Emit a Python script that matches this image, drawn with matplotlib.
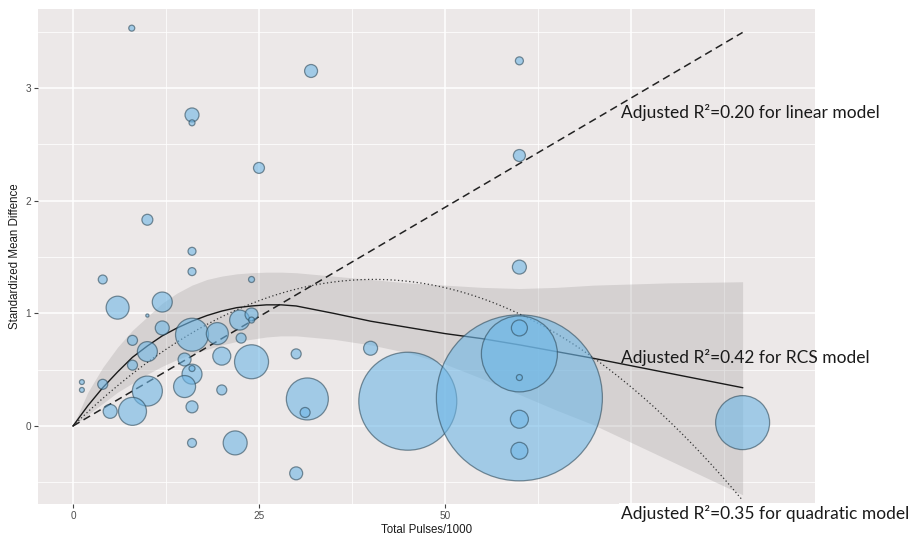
import numpy as np
import matplotlib
matplotlib.use("Agg")
import matplotlib.pyplot as plt
from matplotlib.ticker import MultipleLocator

# Study-level effects: total pulses (thousands), standardized mean difference, study weight
x_pulses = [7.9, 16.0, 16.0, 25.0, 32.0, 60.0, 60.0, 10.0, 16.0, 16.0,
            24.0, 4.0, 6.0, 10.0, 12.0, 12.0, 8.0, 10.0, 8.0, 16.0,
            19.4, 22.4, 24.0, 24.0, 22.6, 24.0, 20.0, 15.0, 16.0, 16.0,
            15.0, 10.0, 8.0, 5.0, 4.0, 1.2, 1.2, 16.0, 20.0, 16.0,
            21.8, 30.0, 30.0, 31.5, 31.2, 40.0, 45.0, 60.0, 60.0, 60.0,
            60.0, 60.0, 60.0, 60.0, 90.0]
smd = [3.53, 2.76, 2.69, 2.29, 3.15, 3.24, 2.40, 1.83, 1.55, 1.37,
       1.30, 1.30, 1.05, 0.98, 1.10, 0.87, 0.76, 0.66, 0.54, 0.81,
       0.82, 0.94, 0.99, 0.94, 0.78, 0.57, 0.62, 0.59, 0.46, 0.51,
       0.35, 0.31, 0.13, 0.13, 0.37, 0.39, 0.32, 0.17, 0.32, -0.15,
       -0.15, -0.42, 0.64, 0.24, 0.12, 0.69, 0.22, 0.25, 0.64, 0.87,
       0.43, 0.06, -0.22, 1.41, 0.03]
weight = [9, 49, 9, 30, 42, 16, 36, 30, 16, 16,
          9, 20, 132, 2.5, 100, 49, 25, 100, 25, 272,
          121, 100, 42, 9, 25, 289, 81, 42, 100, 9,
          121, 225, 196, 49, 25, 6, 6, 36, 25, 20,
          144, 42, 25, 441, 25, 49, 2401, 6889, 1444, 64,
          9, 81, 72, 49, 729]

# Restricted cubic spline fit with its confidence band
rcs_x = [0, 2, 4, 6, 8, 10, 12, 14, 16, 18, 20, 22, 24, 26, 28, 30,
         35, 40, 45, 50, 55, 60, 65, 70, 80, 90]
rcs_fit = [0, 0.18, 0.34, 0.48, 0.61, 0.71, 0.80, 0.87, 0.93, 0.98, 1.02,
           1.05, 1.065, 1.075, 1.075, 1.065, 1.00, 0.93, 0.875, 0.82,
           0.775, 0.72, 0.66, 0.60, 0.47, 0.34]
rcs_upper = [0, 0.30, 0.52, 0.70, 0.85, 0.97, 1.09, 1.18, 1.25, 1.30, 1.33,
             1.35, 1.36, 1.365, 1.365, 1.36, 1.33, 1.30, 1.27, 1.25, 1.23,
             1.22, 1.23, 1.25, 1.27, 1.28]
rcs_lower = [0, 0.10, 0.20, 0.30, 0.38, 0.46, 0.53, 0.59, 0.64, 0.68, 0.72,
             0.75, 0.77, 0.79, 0.80, 0.80, 0.77, 0.72, 0.65, 0.55, 0.42,
             0.28, 0.14, 0.01, -0.30, -0.61]

# Linear (through origin) and quadratic model coefficients
lin_slope = 0.0388
quad_a, quad_b = 0.0644, -0.000797
x_max = 90

x_ticks = [0, 25, 50, 75]
x_ticklabels = ["0", "25", "50", ""]

labels = ["Adjusted R\u00b2=0.20 for linear model",
          "Adjusted R\u00b2=0.42 for RCS model",
          "Adjusted R\u00b2=0.35 for quadratic model"]

plt.rcParams["font.family"] = ["Liberation Sans", "DejaVu Sans"]

fig = plt.figure(figsize=(9.17, 5.38), dpi=100, facecolor="white")
ax = fig.add_axes([38 / 917, 34 / 538, 777 / 917, 495 / 538])
ax.set_facecolor("#ECE8E8")
for s in ax.spines.values():
    s.set_visible(False)

ax.set_xlim(-4.7, 99.73)
ax.set_ylim(-0.692, 3.70)
ax.set_xticks(x_ticks)
ax.set_xticklabels(x_ticklabels)
ax.xaxis.set_minor_locator(MultipleLocator(12.5))
ax.yaxis.set_major_locator(MultipleLocator(1))
ax.yaxis.set_minor_locator(MultipleLocator(0.5))
ax.set_axisbelow(True)
ax.grid(which="major", color="white", linewidth=1.1)
ax.grid(which="minor", color="white", linewidth=0.55)
ax.tick_params(which="major", length=3, width=0.8, color="#444444",
               labelsize=7.2, labelcolor="#4D4D4D", pad=2)
ax.tick_params(which="minor", length=0)

# Confidence ribbon and model curves
ax.fill_between(rcs_x, rcs_lower, rcs_upper, color="#9A9696", alpha=0.28,
                linewidth=0, zorder=1)
xs = np.linspace(0, x_max, 300)
ax.plot(xs, lin_slope * xs, color="#222222", linewidth=1.1,
        dashes=(5, 3), zorder=2)
ax.plot(xs, quad_a * xs + quad_b * xs ** 2, color="#333333", linewidth=0.9,
        dashes=(1, 2), zorder=2)
ax.plot(rcs_x, rcs_fit, color="#1A1A1A", linewidth=1.0, zorder=2)

# Study bubbles, area proportional to weight
sizes = np.array(weight) * (2 * 0.72) ** 2
ax.scatter(x_pulses, smd, s=sizes, facecolor="#6FB7E6", alpha=0.6,
           edgecolor="#2E4A5A", linewidth=0.9, zorder=3)

ax.set_xlabel("Total Pulses/1000", fontsize=8.3, labelpad=2, color="#1A1A1A")
ax.set_ylabel("Standardized Mean Diffence", fontsize=8.3, labelpad=3,
              color="#1A1A1A")

ann_font = dict(family=["Lato", "DejaVu Sans"], fontsize=12.5, color="#1A1A1A")
ax.text(73.7, 2.78, labels[0], va="center", ha="left", zorder=5, **ann_font)
ax.text(73.7, 0.61, labels[1], va="center", ha="left", zorder=5, **ann_font)
ax.text(73.7, -0.775, labels[2], va="center", ha="left", zorder=5,
        clip_on=False,
        bbox=dict(facecolor="white", edgecolor="none", pad=1.5), **ann_font)

fig.savefig("out.png", dpi=100, facecolor="white")
